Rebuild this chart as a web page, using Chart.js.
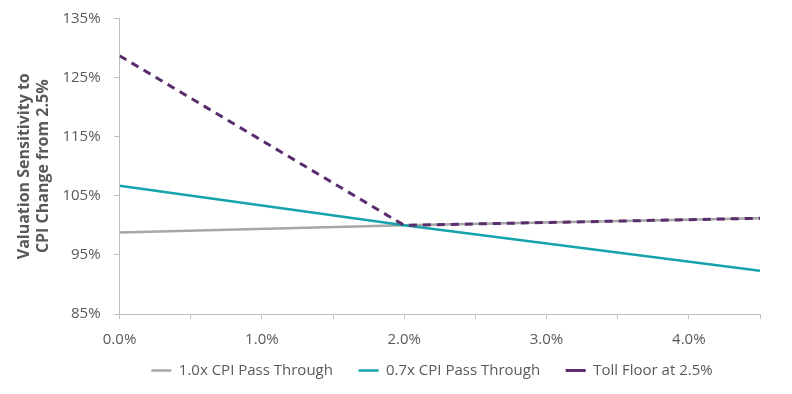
<!DOCTYPE html>
<html lang="en">
<head>
    <meta charset="UTF-8" />
    <title>Valuation Sensitivity to CPI</title>
    <script src="https://cdn.jsdelivr.net/npm/chart.js"></script>
    <style>
        html, body { margin: 0; padding: 0; background: #ffffff; }
        .wrap { width: 792px; height: 394px; }
    </style>
</head>
<body>
<div class="wrap">
    <canvas id="cpiChart" width="792" height="394"></canvas>
</div>

<script>
    // CPI levels (x) and valuation sensitivity (%) for each case
    const cpiLevels = [0.0, 2.0, 4.5];
    const passThrough10 = [98.8, 100.0, 101.2];
    const passThrough07 = [106.7, 100.0, 92.3];
    const tollFloor = [128.7, 100.0, 101.2];

    const seriesNames = ["1.0x CPI Pass Through", "0.7x CPI Pass Through", "Toll Floor at 2.5%"];
    const yTicks = [85, 95, 105, 115, 125, 135];

    const textColor = "#595959";
    const axisColor = "#bfbfbf";
    const fontFamily = "'Open Sans', sans-serif";

    function toPoints(values) {
        return cpiLevels.map((x, i) => ({ x: x, y: values[i] }));
    }

    const chartData = {
        datasets: [
            {
                label: seriesNames[0],
                data: toPoints(passThrough10),
                borderColor: "#a6a6a6",
                backgroundColor: "#a6a6a6",
                borderWidth: 2.5,
                pointRadius: 0,
                order: 3
            },
            {
                label: seriesNames[1],
                data: toPoints(passThrough07),
                borderColor: "#14a3ab",
                backgroundColor: "#14a3ab",
                borderWidth: 2.5,
                pointRadius: 0,
                order: 2
            },
            {
                label: seriesNames[2],
                data: toPoints(tollFloor),
                borderColor: "#5a2d6e",
                backgroundColor: "#5a2d6e",
                borderWidth: 3,
                borderDash: [8, 6],
                pointRadius: 0,
                order: 1
            }
        ]
    };

    const ctx = document.getElementById("cpiChart").getContext("2d");
    new Chart(ctx, {
        type: "line",
        data: chartData,
        options: {
            responsive: false,
            animation: false,
            layout: { padding: { left: 15, right: 32, top: 14, bottom: 6 } },
            plugins: {
                tooltip: { enabled: false },
                legend: {
                    position: "bottom",
                    fullSize: false,
                    labels: {
                        color: textColor,
                        font: { family: fontFamily, size: 15 },
                        usePointStyle: true,
                        pointStyle: "line",
                        pointStyleWidth: 20,
                        boxHeight: 10,
                        padding: 10,
                        sort: (a, b) => a.datasetIndex - b.datasetIndex,
                        // extra room between legend entries without a taller legend
                        generateLabels: (chart) => {
                            const items = Chart.defaults.plugins.legend.labels.generateLabels(chart);
                            items.forEach((item) => { item.text = item.text + "\u00a0\u00a0\u00a0\u00a0"; });
                            return items;
                        }
                    }
                }
            },
            scales: {
                x: {
                    type: "linear",
                    min: 0,
                    max: 4.5,
                    afterFit: (scale) => { scale.height -= 8; },
                    grid: {
                        drawOnChartArea: false,
                        drawTicks: true,
                        tickLength: 5,
                        color: axisColor
                    },
                    border: { color: axisColor, width: 1 },
                    ticks: {
                        stepSize: 0.5,
                        color: textColor,
                        font: { family: fontFamily, size: 15 },
                        padding: 12,
                        maxRotation: 0,
                        autoSkip: false,
                        callback: (v) => Number.isInteger(v) ? v.toFixed(1) + "%" : ""
                    }
                },
                y: {
                    min: yTicks[0],
                    max: yTicks[yTicks.length - 1],
                    afterBuildTicks: (axis) => { axis.ticks = yTicks.map((v) => ({ value: v })); },
                    afterFit: (scale) => { scale.width -= 7; },
                    grid: {
                        drawOnChartArea: false,
                        drawTicks: true,
                        tickLength: 5,
                        color: axisColor
                    },
                    border: { color: axisColor, width: 1 },
                    ticks: {
                        color: textColor,
                        font: { family: fontFamily, size: 15, lineHeight: 0.6 },
                        padding: 14,
                        callback: (v) => v + "%"
                    },
                    title: {
                        display: true,
                        text: ["Valuation Sensitivity to", "CPI Change from 2.5%"],
                        color: textColor,
                        font: { family: fontFamily, size: 16, weight: "bold" },
                        padding: { top: 0, bottom: 2 }
                    }
                }
            }
        }
    });
</script>
</body>
</html>
